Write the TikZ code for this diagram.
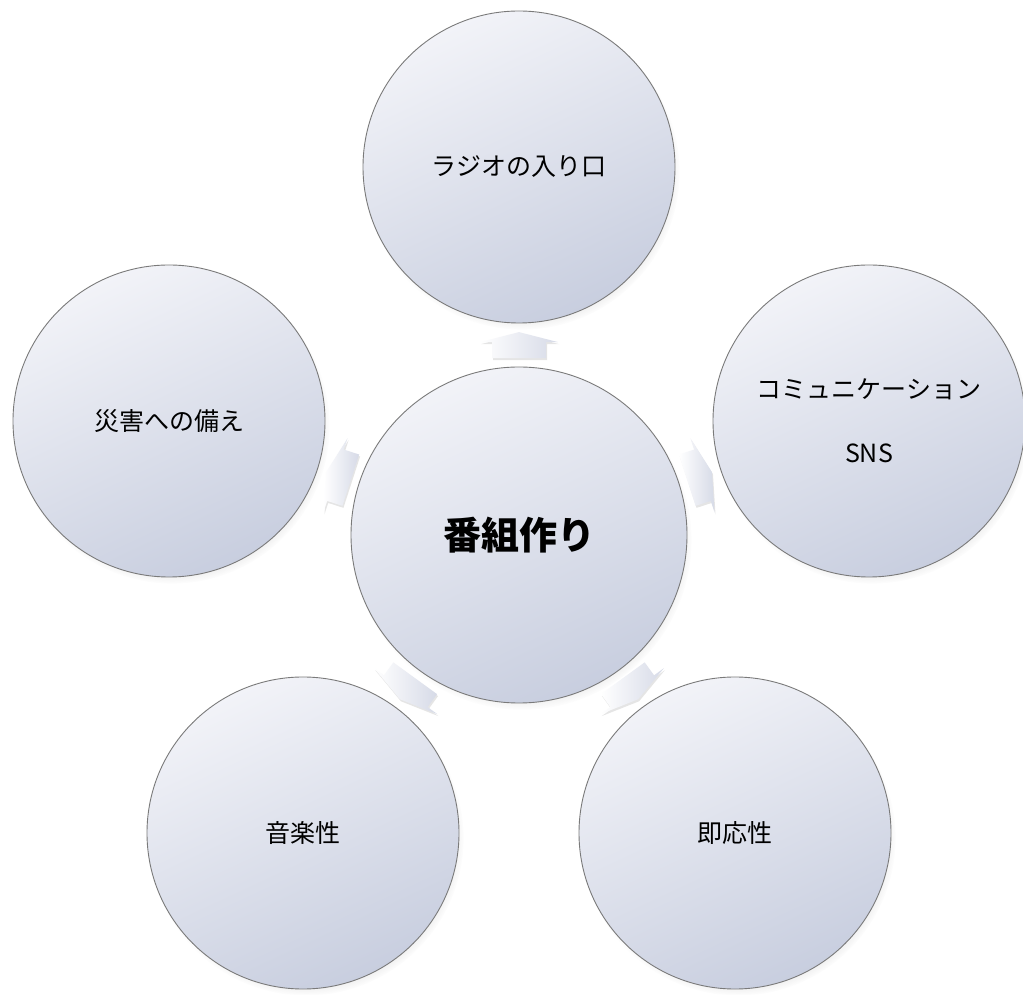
\documentclass[tikz,border=0pt]{standalone}
\usepackage{fontspec}
\setmainfont{Noto Sans CJK JP}
\usetikzlibrary{calc,shadows}

\definecolor{circtop}{HTML}{F2F3F8}
\definecolor{circbot}{HTML}{C8CEDF}
\definecolor{circline}{HTML}{7A7A7A}
\definecolor{spoketint}{HTML}{D6DAE7}

\tikzset{
	hubnode/.style={circle, draw=circline, line width=0.9pt, minimum size=336pt, inner sep=0pt,
		top color=circtop, bottom color=circbot, shading angle=25,
		circular drop shadow={shadow xshift=3pt, shadow yshift=-5pt, shadow scale=1.01, opacity=0.3},
		font=\fontsize{38}{44}\selectfont\bfseries},
	leafnode/.style={hubnode, minimum size=312pt, align=center, font=\fontsize{25}{30}\selectfont},
	spoke/.style={left color=white, right color=spoketint,
		drop shadow={shadow xshift=1pt, shadow yshift=-2pt, opacity=0.2}}
}

\begin{document}
\begin{tikzpicture}[x=1pt, y=1pt]
			%%%%% FRAME %%%%%
			\useasboundingbox (0,0) rectangle (1023,994);
			\fill[white] (0,0) rectangle (1023,994);
			
			%%%%% CIRCLES %%%%%
			\node[hubnode] (hub) at (519,459) {番組作り};
			
			\node[leafnode] (radio) at (519,827) {ラジオの入り口};
			\node[leafnode] (sns) at (869,573) {コミュニケーション\\[34pt]SNS};
			\node[leafnode] (instant) at (735,161) {即応性};
			\node[leafnode] (music) at (303,161) {音楽性};
			\node[leafnode] (disaster) at (169,573) {災害への備え};
			
			%%%%% ARROWS %%%%%
			\foreach \leaf/\ang in {radio/90, sns/18, instant/-54, music/-126, disaster/162}
				\path[spoke, shift={($(hub)!0.516!(\leaf)$)}, rotate=\ang]
					(-13,-27) -- (3,-27) -- (3,-39) -- (13,0) -- (3,39) -- (3,27) -- (-13,27) -- cycle;
\end{tikzpicture}
\end{document}
